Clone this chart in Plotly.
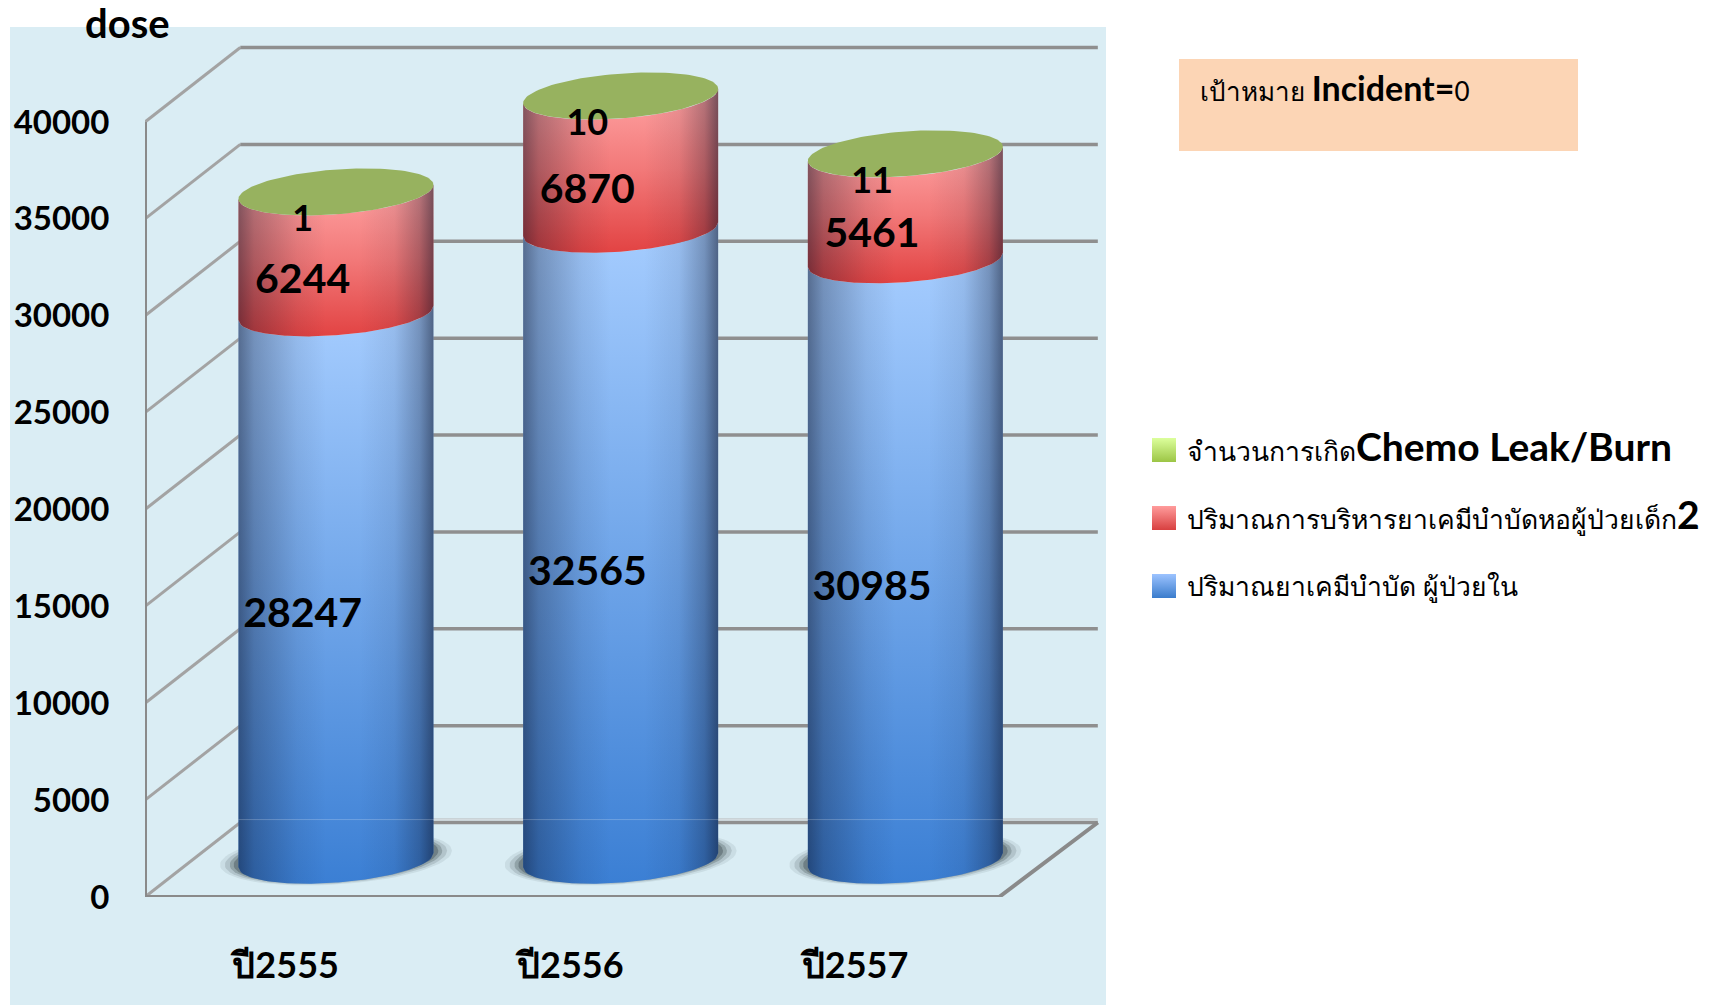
import numpy as np
import plotly.graph_objects as go

# ---- data ----
categories = ["ปี2555", "ปี2556", "ปี2557"]
inpatient = [28247, 32565, 30985]
pediatric = [6244, 6870, 5461]
leak = [1, 10, 11]
y_ticks = [0, 5000, 10000, 15000, 20000, 25000, 30000, 35000, 40000]
BIG = '<span style="font-size:39px"><b>%s</b></span>'
name_blue = "ปริมาณยาเคมีบำบัด ผู้ป่วยใน"
name_red = "ปริมาณการบริหารยาเคมีบำบัดหอผู้ป่วยเด็ก" + BIG % "2"
name_green = "จำนวนการเกิด" + BIG % "Chemo Leak/Burn"

# ---- layout geometry ----
W, H = 1717, 1005
AX_X, AX_Y = 145.0, 897.0      # pixel of the axis corner
UX = 284.7                     # px per category
UY = 775.0 / 40000             # px per value
FONT = "Lato, 'Noto Sans', sans-serif"
AXIS = "#8a8a8a"
GRID = "#8f8f8f"

DX, DY = 95.3 / UX, 74.5 / UY      # depth of the 3D box
CX = 48.6 / UX                     # cylinder shift
BASE = 1900.0                      # cylinder base offset in value units
A = 97.5 / UX                      # half width of cylinder
HE = 22.4 / UY                     # ellipse half height
TILT = 7.1 / UY                    # ellipse tilt
LBLX, LBLY = 15.3 / UX, 30 / UY    # label shift
BAND = 150.0                       # light band above the floor's back line

t = np.linspace(-1, 1, 81)
front = np.sqrt(1 - t ** 2)


def lower_arc(cx, v):
    return cx + A * t, v - HE * front + TILT * t


def cylinder_section(cx, v0, v1):
    x0, y0 = lower_arc(cx, v0)
    x1, y1 = lower_arc(cx, v1)
    return np.r_[x0, x1[::-1], x0[0]], np.r_[y0, y1[::-1], y0[0]]


def lid(cx, v):
    th = np.linspace(0, 2 * np.pi, 121)
    c = np.cos(th)
    return cx + A * c, v + HE * np.sin(th) + TILT * c


def px_x(p):
    return -0.5 + (p - AX_X) / UX


def px_y(p):
    return (AX_Y - p) * 1.0 / UY


def fx(p):
    return (p - AX_X) / (W - AX_X)


def fy(p):
    return (AX_Y - p) / AX_Y


fig = go.Figure()

# box: gridlines
END = 2.5 + DX + 0.012
for v in y_ticks:
    fig.add_trace(go.Scatter(x=[-0.5, -0.5 + DX], y=[v, v + DY], mode="lines",
                             line=dict(color="#a3a3a3", width=3), showlegend=False, hoverinfo="skip"))
    fig.add_trace(go.Scatter(x=[-0.5 + DX, END], y=[v + DY, v + DY], mode="lines",
                             line=dict(color=GRID, width=3.5), showlegend=False, hoverinfo="skip"))
fig.add_trace(go.Scatter(x=[-0.5 + DX, END], y=[DY + BAND, DY + BAND], mode="lines",
                         line=dict(color="#c9d3d7", width=3), showlegend=False, hoverinfo="skip"))
fig.add_trace(go.Scatter(x=[-0.5, -0.5, 2.5, END], y=[40000, 0, 0, DY], mode="lines",
                         line=dict(color=AXIS, width=4), showlegend=False, hoverinfo="skip"))

EDGE = [[0, "rgba(10,15,35,0.5)"], [0.08, "rgba(10,15,35,0.3)"], [0.3, "rgba(10,15,35,0.08)"],
        [0.45, "rgba(10,15,35,0)"], [0.62, "rgba(10,15,35,0)"], [0.8, "rgba(10,15,35,0.08)"],
        [0.93, "rgba(10,15,35,0.3)"], [1, "rgba(10,15,35,0.55)"]]
BLUE = [[0, "#3b7fd4"], [1, "#a6cdff"]]
RED = [[0, "#e24343"], [0.5, "#f27878"], [1, "#ffa3a3"]]


def side(xs, ys, scale):
    fig.add_trace(go.Scatter(x=xs, y=ys, mode="lines", line=dict(width=0), fill="toself",
                             fillgradient=dict(type="vertical", colorscale=scale),
                             showlegend=False, hoverinfo="skip"))
    fig.add_trace(go.Scatter(x=xs, y=ys, mode="lines", line=dict(width=0), fill="toself",
                             fillgradient=dict(type="horizontal", colorscale=EDGE),
                             showlegend=False, hoverinfo="skip"))


for i in range(3):
    cx = i + CX
    b = inpatient[i]
    r = b + pediatric[i]
    g = r + leak[i]
    # shadow
    for grow, alpha in [(1.19, 0.1), (1.14, 0.18), (1.09, 0.3), (1.05, 0.45)]:
        th = np.linspace(0, 2 * np.pi, 81)
        fig.add_trace(go.Scatter(x=cx + A * grow * np.cos(th),
                                 y=BASE + 120 + HE * grow * np.sin(th) + TILT * np.cos(th),
                                 mode="lines", line=dict(width=0), fill="toself",
                                 fillcolor=f"rgba(70,85,90,{alpha})", showlegend=False, hoverinfo="skip"))
    side(*cylinder_section(cx, BASE, BASE + b), BLUE)
    side(*cylinder_section(cx, BASE + b, BASE + r), RED)
    lx, ly = lid(cx, BASE + g)
    fig.add_trace(go.Scatter(x=lx, y=ly, mode="lines", line=dict(width=0), fill="toself",
                             fillcolor="#97b25f", showlegend=False, hoverinfo="skip"))

# faint floor line over the cylinders
fig.add_trace(go.Scatter(x=[CX - A, 2 + CX + A], y=[DY + BAND, DY + BAND], mode="lines",
                         line=dict(color="rgba(255,255,255,0.22)", width=1), showlegend=False, hoverinfo="skip"))

# value labels
lab_x, lab_y, lab_t, lab_big_x, lab_big_y, lab_big_t = [], [], [], [], [], []
for i in range(3):
    b, p, l = inpatient[i], pediatric[i], leak[i]
    lab_big_x += [i + LBLX] * 2
    lab_big_y += [BASE + b / 2 - LBLY, BASE + b + p / 2 - LBLY]
    lab_big_t += [str(b), str(p)]
    lab_x.append(i + LBLX)
    lab_y.append(BASE + b + p + l / 2 - LBLY)
    lab_t.append(str(l))
fig.add_trace(go.Scatter(x=lab_big_x, y=lab_big_y, text=lab_big_t, mode="text",
                         textfont=dict(family=FONT, size=41, color="black", weight="bold"),
                         showlegend=False, hoverinfo="skip"))
fig.add_trace(go.Scatter(x=lab_x, y=lab_y, text=lab_t, mode="text",
                         textfont=dict(family=FONT, size=36, color="black", weight="bold"),
                         showlegend=False, hoverinfo="skip"))

# legend entries, with their gradient swatches
swatches = [(name_green, "#dcff9c", "#9cc545", 450),
            (name_red, "#ff9c9c", "#d84040", 518),
            (name_blue, "#9cc3ff", "#3a7ccc", 586)]
for rank, (nm, top, bot, py) in enumerate(swatches):
    fig.add_trace(go.Scatter(x=[px_x(1152), px_x(1176), px_x(1176), px_x(1152), px_x(1152)],
                             y=[px_y(py + 12), px_y(py + 12), px_y(py - 12), px_y(py - 12), px_y(py + 12)],
                             mode="lines", line=dict(width=0), fill="toself",
                             fillgradient=dict(type="vertical", colorscale=[[0, bot], [1, top]]),
                             showlegend=False, hoverinfo="skip"))
    fig.add_trace(go.Scatter(x=[None], y=[None], mode="markers", name=nm, legendgroup=nm, legendrank=rank + 1,
                             marker=dict(symbol="square", size=12, color="rgba(0,0,0,0)")))

fig.update_layout(
    width=W, height=H, autosize=False,
    margin=dict(l=AX_X, r=0, t=0, b=H - AX_Y, pad=0),
    paper_bgcolor="white", plot_bgcolor="rgba(0,0,0,0)",
    font=dict(family=FONT, color="black"),
    xaxis=dict(range=[-0.5, -0.5 + (W - AX_X) / UX], tickvals=[-0.006, 0.994, 1.994],
               ticktext=[f"<b>{c}</b>" for c in categories],
               ticks="outside", ticklen=37, tickcolor="rgba(0,0,0,0)", tickfont=dict(family=FONT, size=36),
               showgrid=False, zeroline=False, showline=False, fixedrange=True),
    yaxis=dict(range=[0, AX_Y / UY], tickvals=y_ticks, ticktext=[f"<b>{v}</b>" for v in y_ticks],
               ticks="outside", ticklen=28, tickcolor="rgba(0,0,0,0)", tickfont=dict(family=FONT, size=33),
               showgrid=False, zeroline=False, showline=False, fixedrange=True),
    legend=dict(x=fx(1147), y=fy(427), xanchor="left", yanchor="top",
                bgcolor="rgba(0,0,0,0)", font=dict(family=FONT, size=26.5, color="black"),
                entrywidth=500, entrywidthmode="pixels",
                tracegroupgap=30, itemsizing="constant", traceorder="grouped"),
    shapes=[
        dict(type="rect", xref="paper", yref="paper", layer="below", line=dict(width=0), fillcolor="#daedf4",
             x0=fx(10), x1=fx(1106), y0=fy(1005), y1=fy(27)),
        dict(type="rect", xref="paper", yref="paper", layer="below", line=dict(width=0), fillcolor="#fcd5b5",
             x0=fx(1179), x1=fx(1578), y0=fy(151), y1=fy(59)),
    ],
    annotations=[
        dict(text="<b>dose</b>", xref="paper", yref="paper", x=fx(127), y=fy(23), xanchor="center", yanchor="middle",
             showarrow=False, font=dict(family=FONT, size=40)),
        dict(text='เป้าหมาย <span style="font-size:34px"><b>Incident=</b></span>0', xref="paper", yref="paper",
             x=fx(1198), y=fy(87), xanchor="left", yanchor="middle", showarrow=False, font=dict(family=FONT, size=26)),
    ],
)

fig.write_html("out.html", post_script="document.body.style.margin='0';", config={"displayModeBar": False})
